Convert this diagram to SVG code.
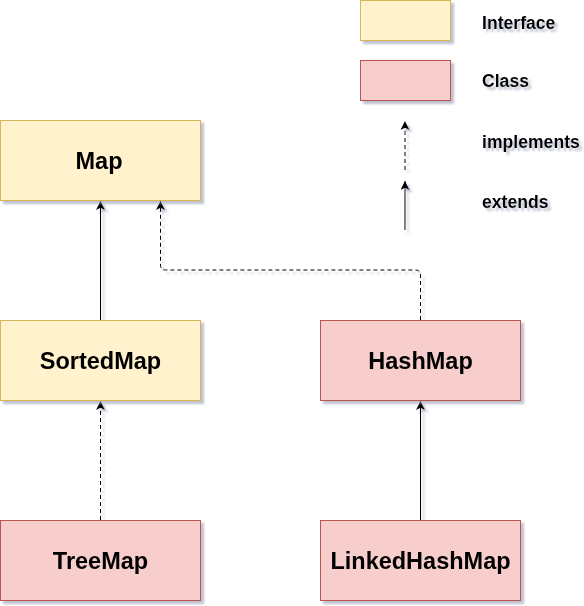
<svg xmlns="http://www.w3.org/2000/svg" width="584" height="606" viewBox="0 0 584 606">
<defs>
<filter id="sh" x="-10%" y="-10%" width="130%" height="140%">
<feGaussianBlur in="SourceAlpha" stdDeviation="1"/>
<feOffset dx="3" dy="3" result="o"/>
<feFlood flood-color="#8a8fa8" flood-opacity="0.55"/>
<feComposite in2="o" operator="in"/>
<feMerge><feMergeNode/><feMergeNode in="SourceGraphic"/></feMerge>
</filter>
<marker id="ah" viewBox="0 0 10 10" refX="10" refY="5" markerWidth="9" markerHeight="9" markerUnits="userSpaceOnUse" orient="auto">
<path d="M0,0 L10,5 L0,10 L2.5,5 Z" fill="#000"/>
</marker>
</defs>
<style>
.intf{fill:#fff2cc;stroke:#d6b656;stroke-width:1}
.cls{fill:#f8cecc;stroke:#b85450;stroke-width:1}
.lbl{font-family:"Liberation Sans",Arial,sans-serif;font-weight:bold;font-size:23.5px;fill:#000;text-anchor:middle}
.leg{font-family:"Liberation Sans",Arial,sans-serif;font-weight:bold;font-size:17.6px;fill:#000}
.ln{fill:none;stroke:#000;stroke-width:1;marker-end:url(#ah)}
.dash{stroke-dasharray:4 3}
</style>
<g id="legend" filter="url(#sh)">
<rect class="intf" x="360.5" y="0.5" width="90" height="40"/>
<rect class="cls" x="360.5" y="60.5" width="90" height="40"/>
<path class="ln dash" d="M405,170 L405,121"/>
<path class="ln" d="M405,230 L405,181"/>
<text class="leg" x="482" y="29">Interface</text>
<text class="leg" x="482" y="87">Class</text>
<text class="leg" x="482" y="148">implements</text>
<text class="leg" x="482" y="208">extends</text>
</g>
<g id="connectors" filter="url(#sh)">
<path class="ln" d="M100.5,320 L100.5,201"/>
<path class="ln dash" d="M420.5,320 L420.5,275 Q420.5,270 415.5,270 L165.5,270 Q160.5,270 160.5,265 L160.5,201"/>
<path class="ln dash" d="M100.5,520 L100.5,401"/>
<path class="ln" d="M420.5,520 L420.5,401"/>
</g>
<g id="Map" filter="url(#sh)">
<rect class="intf" x="0.5" y="120.5" width="200" height="80"/>
<text class="lbl" x="99" y="169">Map</text>
</g>
<g id="SortedMap" filter="url(#sh)">
<rect class="intf" x="0.5" y="320.5" width="200" height="80"/>
<text class="lbl" x="100.5" y="369">SortedMap</text>
</g>
<g id="HashMap" filter="url(#sh)">
<rect class="cls" x="320.5" y="320.5" width="200" height="80"/>
<text class="lbl" x="420.5" y="369">HashMap</text>
</g>
<g id="TreeMap" filter="url(#sh)">
<rect class="cls" x="0.5" y="520.5" width="200" height="80"/>
<text class="lbl" x="100.5" y="569">TreeMap</text>
</g>
<g id="LinkedHashMap" filter="url(#sh)">
<rect class="cls" x="320.5" y="520.5" width="200" height="80"/>
<text class="lbl" x="420.5" y="569">LinkedHashMap</text>
</g>
</svg>
